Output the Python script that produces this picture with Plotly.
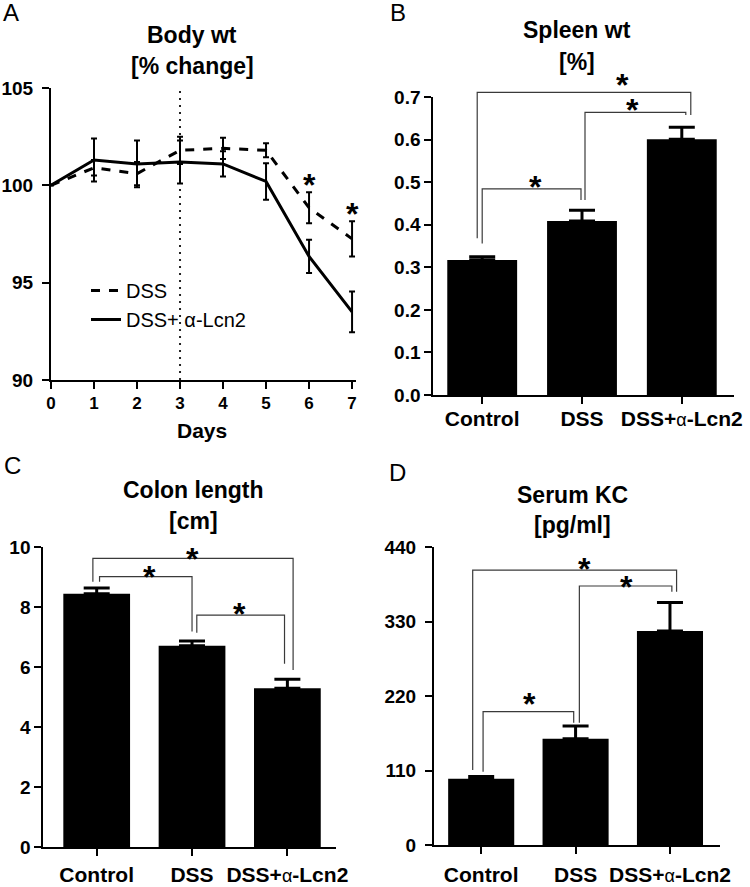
import plotly.graph_objects as go

W, H = 750, 887
FONT = "Liberation Sans"

# ---------------- data ----------------
days = [0, 1, 2, 3, 4, 5, 6, 7]
dss_wt = [100.0, 100.9, 100.6, 101.8, 101.9, 101.8, 98.85, 97.25]
dss_wt_err = [0, 0.4, 0.6, 0.7, 0.55, 0.36, 0.8, 0.9]
lcn_wt = [100.0, 101.3, 101.1, 101.2, 101.1, 100.2, 96.35, 93.5]
lcn_wt_err = [0, 1.1, 1.2, 1.1, 0.65, 0.94, 0.85, 1.05]
wt_star_days = [6, 7]
wt_star_y = [100.4, 98.9]
treatment_day = 3

groups = ["Control", "DSS", "DSS+α-Lcn2"]
group_labels = ["Control", "DSS",
                "DSS+<span style='font-weight:normal;font-size:18px'>α</span>-Lcn2"]

spleen = [0.317, 0.409, 0.601]
spleen_err = [0.008, 0.025, 0.028]
colon = [8.44, 6.71, 5.29]
colon_err = [0.19, 0.16, 0.30]
kc = [98.0, 156.7, 316.0]
kc_err = [3.0, 19.0, 42.0]

# significance brackets: left x, right x, left foot, right foot, top
spleen_br_xl = [-0.05, 1.03, 0.0]
spleen_br_xr = [2.09, 2.04, 0.99]
spleen_br_yl = [0.368, 0.458, 0.356]
spleen_br_yr = [0.658, 0.658, 0.458]
spleen_br_top = [0.711, 0.664, 0.484]
spleen_star_x = [1.41, 1.51, 0.53]
spleen_star_y = [0.745, 0.686, 0.505]

colon_br_xl = [-0.04, 0.03, 1.05]
colon_br_xr = [2.06, 1.0, 1.97]
colon_br_yl = [8.84, 8.84, 7.14]
colon_br_yr = [5.9, 7.18, 6.11]
colon_br_top = [9.62, 9.01, 7.73]
colon_star_x = [1.0, 0.55, 1.5]
colon_star_y = [9.84, 9.23, 8.01]

kc_br_xl = [-0.09, 1.04, 0.02]
kc_br_xr = [2.07, 2.02, 0.98]
kc_br_yl = [110.7, 180.6, 108.3]
kc_br_yr = [374.0, 374.0, 180.6]
kc_br_top = [406.0, 382.4, 196.8]
kc_star_x = [1.09, 1.54, 0.51]
kc_star_y = [418.0, 391.0, 219.0]

# ---------------- layout geometry (pixels) ----------------
def px_x(v):
    return v / W

def px_y(v):
    return 1 - v / H

panels = {
    "A": dict(x=(51, 355.5), y=(88, 380)),
    "B": dict(x=(433.3, 733.7), y=(97, 395)),
    "C": dict(x=(43.3, 336), y=(547, 847)),
    "D": dict(x=(434, 720), y=(547, 845)),
}

fig = go.Figure()

axis_common = dict(
    showgrid=False, zeroline=False, showline=True, linecolor="black", linewidth=2,
    ticks="outside", ticklen=7, tickwidth=2, tickcolor="black", automargin=False,
    tickfont=dict(family=FONT, size=19, color="black", weight="bold"),
    fixedrange=True,
)

# ---- Panel A ----
fig.add_trace(go.Scatter(
    x=days, y=dss_wt, mode="lines", name="DSS",
    line=dict(color="black", width=3, dash="dash"),
    error_y=dict(type="data", array=dss_wt_err, color="black", thickness=2, width=3),
    cliponaxis=False, xaxis="x", yaxis="y",
))
fig.add_trace(go.Scatter(
    x=days, y=lcn_wt, mode="lines", name="DSS+ α-Lcn2",
    line=dict(color="black", width=3),
    error_y=dict(type="data", array=lcn_wt_err, color="black", thickness=2, width=3),
    cliponaxis=False, xaxis="x", yaxis="y",
))

# ---- bar panels ----
bar_specs = [
    ("B", "x2", "y2", "y5", spleen, spleen_err, (0, 0.7),
     spleen_br_xl, spleen_br_xr, spleen_br_yl, spleen_br_yr, spleen_br_top, spleen_star_x, spleen_star_y,
     (-0.49, 2.52), -3, 0),
    ("C", "x3", "y3", "y6", colon, colon_err, (0, 10),
     colon_br_xl, colon_br_xr, colon_br_yl, colon_br_yr, colon_br_top, colon_star_x, colon_star_y,
     (-0.56, 2.51), 1, 0),
    ("D", "x4", "y4", "y7", kc, kc_err, (0, 440),
     kc_br_xl, kc_br_xr, kc_br_yl, kc_br_yr, kc_br_top, kc_star_x, kc_star_y,
     (-0.5, 2.53), 3, 5),
]

annotations = []
EXT = 40  # extra pixels above bar panels for brackets

layout_axes = {}
STAR_FONT = dict(family=FONT, size=32, color="black", weight="bold")

for spec in bar_specs:
    (pn, xa, ya, yext, vals, errs, yr, bxl, bxr, byl, byr, btop, sx, sy) = spec[:14]
    fig.add_trace(go.Bar(
        x=list(range(len(groups))), y=vals, width=0.7,
        marker=dict(color="black", line=dict(width=0)),
        error_y=dict(type="data", symmetric=False, array=errs, arrayminus=[0] * len(errs),
                     color="black", thickness=3, width=13),
        showlegend=False, xaxis=xa, yaxis=ya, hoverinfo="skip",
    ))
    bx, by, = [], []
    for i in range(len(bxl)):
        bx += [bxl[i], bxl[i], bxr[i], bxr[i], None]
        by += [byl[i], btop[i], btop[i], byr[i], None]
    fig.add_trace(go.Scatter(
        x=bx, y=by, mode="lines", line=dict(color="#3a3a3a", width=1.2),
        showlegend=False, xaxis=xa, yaxis=yext, hoverinfo="skip",
    ))
    for i in range(len(sx)):
        annotations.append(dict(
            x=sx[i], y=sy[i], xref=xa, yref=yext, text="*", showarrow=False,
            font=STAR_FONT, yshift=-7, xanchor="center", yanchor="middle",
        ))

for i in range(len(wt_star_days)):
    annotations.append(dict(
        x=wt_star_days[i], y=wt_star_y[i], xref="x", yref="y", text="*", showarrow=False,
        font=STAR_FONT, yshift=-7, xanchor="center", yanchor="middle",
    ))

# vertical dotted line at treatment day
fig.add_shape(type="line", xref="x", yref="y", x0=treatment_day, x1=treatment_day,
              y0=90, y1=105, line=dict(color="#222", width=2, dash="2px,5px"), layer="below")

# axes
pa = panels["A"]
layout_axes["xaxis"] = dict(axis_common, domain=[px_x(pa["x"][0]), px_x(pa["x"][1])],
                            range=[0, 7.08], tickvals=days, anchor="y",
                            tickfont=dict(family=FONT, size=17, color="black", weight="bold"))
layout_axes["yaxis"] = dict(axis_common, domain=[px_y(pa["y"][1]), px_y(pa["y"][0])],
                            range=[90, 105], tickvals=[90, 95, 100, 105], anchor="x",
                            ticklabelstandoff=5)

ytick_sets = {
    "B": dict(tickvals=[0, 0.1, 0.2, 0.3, 0.4, 0.5, 0.6, 0.7], tickformat=".1f"),
    "C": dict(tickvals=[0, 2, 4, 6, 8, 10]),
    "D": dict(tickvals=[0, 110, 220, 330, 440]),
}
for spec in bar_specs:
    pn, xa, ya, yext, vals, errs, yr = spec[:7]
    xr, xstand, ystand = spec[14], spec[15], spec[16]
    p = panels[pn]
    xkey = "xaxis" + xa[1:]
    ykey = "yaxis" + ya[1:]
    ekey = "yaxis" + yext[1:]
    bottom = px_y(p["y"][1])
    top = px_y(p["y"][0])
    top_ext = px_y(p["y"][0] - EXT)
    layout_axes[xkey] = dict(axis_common, domain=[px_x(p["x"][0]), px_x(p["x"][1])],
                             range=list(xr), tickvals=list(range(len(groups))), ticktext=group_labels,
                             anchor=ya, ticklabelstandoff=xstand,
                             tickfont=dict(family=FONT, size=21, color="black", weight="bold"))
    layout_axes[ykey] = dict(axis_common, domain=[bottom, top], range=list(yr), anchor=xa,
                             ticklabelstandoff=ystand, **ytick_sets[pn])
    layout_axes[ekey] = dict(domain=[bottom, top_ext], anchor=xa, visible=False, fixedrange=True,
                             automargin=False,
                             range=[yr[0], yr[1] * (top_ext - bottom) / (top - bottom)])

# titles and panel letters
def text_ann(txt, x, y, size, bold=True, xanchor="center"):
    return dict(text=txt, x=px_x(x), y=px_y(y), xref="paper", yref="paper", showarrow=False,
                xanchor=xanchor, yanchor="middle",
                font=dict(family=FONT, size=size, color="black", weight="bold" if bold else "normal"))

annotations += [
    text_ann("Body wt", 192, 35, 23), text_ann("[% change]", 192, 66, 23),
    text_ann("Spleen wt", 577, 30, 23), text_ann("[%]", 577, 62, 23),
    text_ann("Colon length", 193, 490, 23), text_ann("[cm]", 193, 521, 23),
    text_ann("Serum KC", 572, 495, 23), text_ann("[pg/ml]", 572, 525, 23),
    text_ann("Days", 202, 431, 21),
    text_ann("A", 1, 12, 24, bold=False, xanchor="left"),
    text_ann("B", 388, 13, 24, bold=False, xanchor="left"),
    text_ann("C", 2, 465, 24, bold=False, xanchor="left"),
    text_ann("D", 387, 472, 24, bold=False, xanchor="left"),
]

fig.update_layout(
    width=W, height=H, margin=dict(l=0, r=0, t=0, b=0, autoexpand=False),
    paper_bgcolor="white", plot_bgcolor="rgba(0,0,0,0)",
    showlegend=True,
    legend=dict(x=px_x(86), y=px_y(271), xanchor="left", yanchor="top",
                bgcolor="rgba(0,0,0,0)", font=dict(family=FONT, size=20, color="black"),
                itemwidth=30, tracegroupgap=0),
    annotations=annotations,
    **layout_axes,
)

fig.write_html("out.html", config={"displayModeBar": False},
               post_script="document.body.style.margin='0px';")
